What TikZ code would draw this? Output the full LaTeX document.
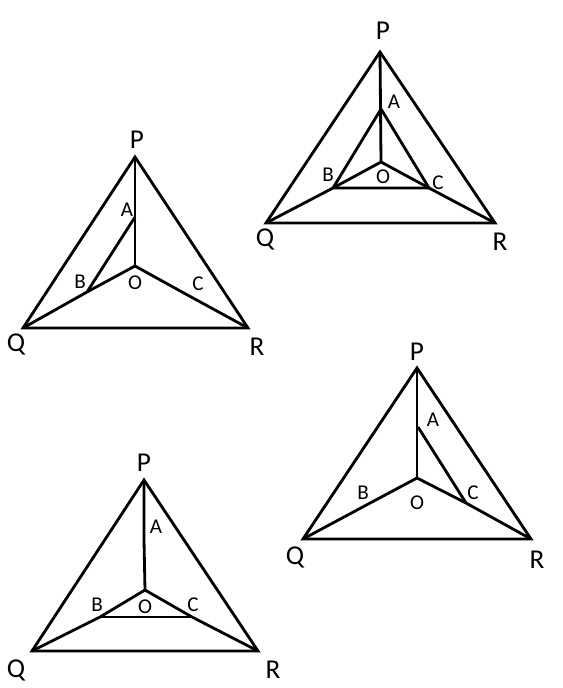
\documentclass[tikz,border=0pt]{standalone}
\usepackage{fontspec}
\setmainfont{Carlito}
\begin{document}
\begin{tikzpicture}[x=0.02cm, y=-0.02cm, line width=1.6pt,
    vlabel/.style={font=\fontsize{15.5}{15.5}\selectfont, inner sep=0pt},
    ilabel/.style={font=\fontsize{12}{12}\selectfont, inner sep=0pt}]
    \useasboundingbox (0,0) rectangle (563,688);

    % Top-left triangle
    \coordinate (P1) at (135,157);
    \coordinate (Q1) at (23,328);
    \coordinate (R1) at (248,328);
    \coordinate (O1) at (135,266);
    \coordinate (A1) at (135,217);
    \coordinate (B1) at (87,292);
    \coordinate (C1) at (182,292);
    \draw (P1) -- (Q1) -- (R1) -- cycle;
    \draw (P1) -- (O1);
    \draw (Q1) -- (B1) -- (O1);
    \draw (O1) -- (C1) -- (R1);
    \draw (A1) -- (B1);
    \node[vlabel] (p1) at (137,140) {P};
    \node[vlabel] (q1) at (16,344) {Q};
    \node[vlabel] (r1) at (257,347) {R};
    \node[ilabel] (a1) at (127,210) {A};
    \node[ilabel] (b1) at (80,282) {B};
    \node[ilabel] (o1) at (135,283) {O};
    \node[ilabel] (c1) at (198,284) {C};

    % Top-right triangle
    \coordinate (P2) at (380,52);
    \coordinate (Q2) at (266,223);
    \coordinate (R2) at (495,223);
    \coordinate (O2) at (381,162);
    \coordinate (A2) at (381,109);
    \coordinate (B2) at (333,188);
    \coordinate (C2) at (429,188);
    \draw (P2) -- (Q2) -- (R2) -- cycle;
    \draw (P2) -- (O2);
    \draw (Q2) -- (B2) -- (O2);
    \draw (O2) -- (C2) -- (R2);
    \draw (A2) -- (B2) -- (C2) -- cycle;
    \node[vlabel] (p2) at (383,31) {P};
    \node[vlabel] (q2) at (265,239) {Q};
    \node[vlabel] (r2) at (500,242) {R};
    \node[ilabel] (a2) at (394,102) {A};
    \node[ilabel] (b2) at (328,175) {B};
    \node[ilabel] (o2) at (383,177) {O};
    \node[ilabel] (c2) at (438,183) {C};

    % Middle-right triangle
    \coordinate (P3) at (417,368);
    \coordinate (Q3) at (303,539);
    \coordinate (R3) at (531,539);
    \coordinate (O3) at (417,478);
    \coordinate (A3) at (418,427);
    \coordinate (B3) at (372,502);
    \coordinate (C3) at (466,503);
    \draw (P3) -- (Q3) -- (R3) -- cycle;
    \draw (P3) -- (O3);
    \draw (Q3) -- (B3) -- (O3);
    \draw (O3) -- (C3) -- (R3);
    \draw (A3) -- (C3);
    \node[vlabel] (p3) at (417,352) {P};
    \node[vlabel] (q3) at (295,557) {Q};
    \node[vlabel] (r3) at (537,560) {R};
    \node[ilabel] (a3) at (433,420) {A};
    \node[ilabel] (b3) at (363,493) {B};
    \node[ilabel] (o3) at (417,503) {O};
    \node[ilabel] (c3) at (473,493) {C};

    % Bottom-left triangle
    \coordinate (P4) at (144,480);
    \coordinate (Q4) at (32,651);
    \coordinate (R4) at (258,651);
    \coordinate (O4) at (145,590);
    \coordinate (A4) at (144,540);
    \coordinate (B4) at (100,617);
    \coordinate (C4) at (192,617);
    \draw (P4) -- (Q4) -- (R4) -- cycle;
    \draw (P4) -- (A4) -- (O4);
    \draw (Q4) -- (B4) -- (O4);
    \draw (O4) -- (C4) -- (R4);
    \draw (B4) -- (C4);
    \node[vlabel] (p4) at (144,463) {P};
    \node[vlabel] (q4) at (16,670) {Q};
    \node[vlabel] (r4) at (273,670) {R};
    \node[ilabel] (a4) at (156,527) {A};
    \node[ilabel] (b4) at (97,605) {B};
    \node[ilabel] (o4) at (145,607) {O};
    \node[ilabel] (c4) at (193,605) {C};

\end{tikzpicture}
\end{document}
